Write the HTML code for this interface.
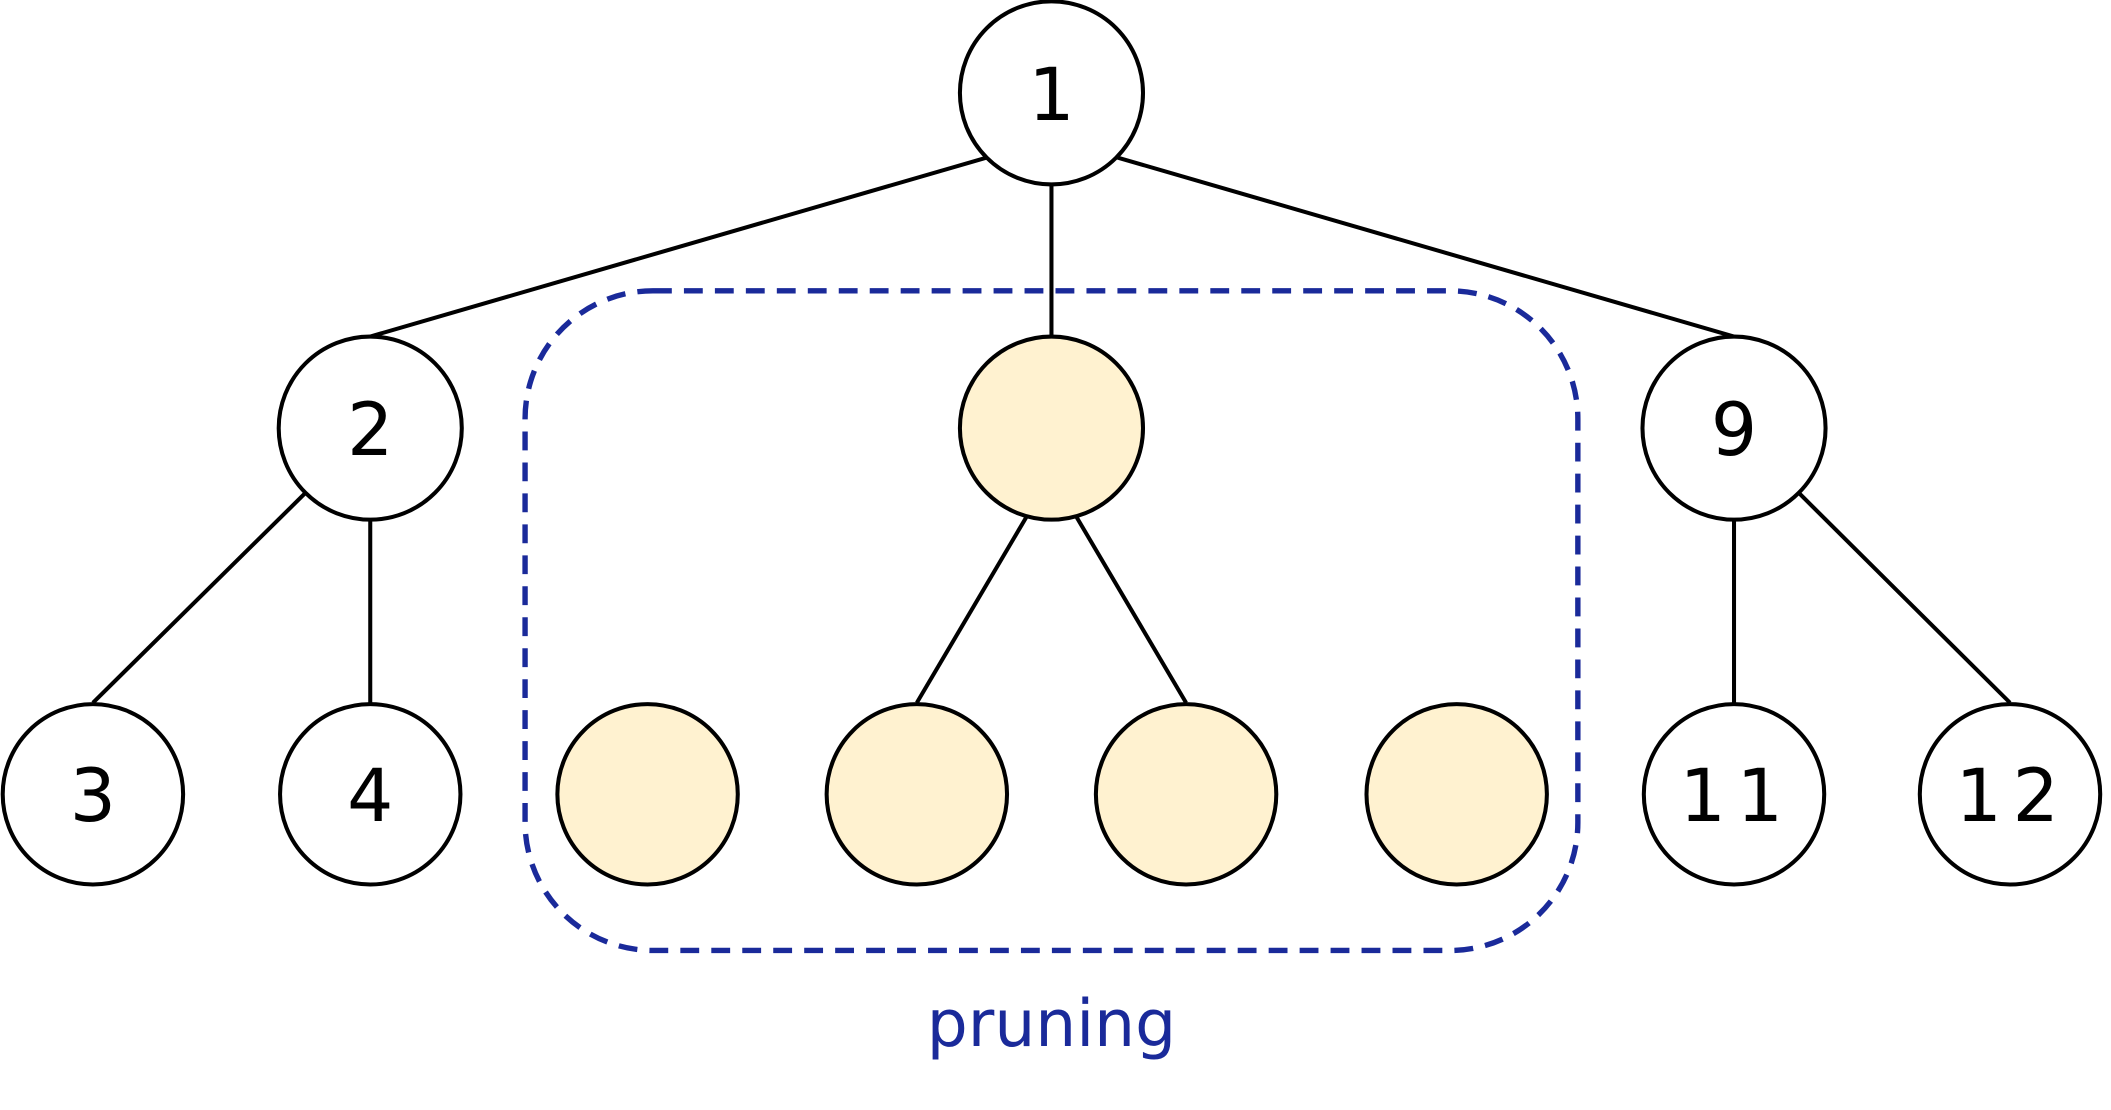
<!DOCTYPE html>
<html><head><meta charset="utf-8"><style>
html,body{margin:0;padding:0;background:#fff;}
svg{display:block;}
</style></head><body>
<svg width="2111" height="1110" viewBox="0 0 1568 824.5" xmlns="http://www.w3.org/2000/svg">
<g stroke="#000" stroke-width="3" fill="none">
<line x1="733" y1="117" x2="275" y2="250"/>
<line x1="781" y1="137" x2="781" y2="250"/>
<line x1="830" y1="117" x2="1288" y2="250"/>
<line x1="227" y1="366" x2="69" y2="522"/>
<line x1="275" y1="386" x2="275" y2="522"/>
<line x1="763" y1="383" x2="681" y2="522"/>
<line x1="799" y1="383" x2="881" y2="522"/>
<line x1="1288" y1="386" x2="1288" y2="522"/>
<line x1="1336" y1="366" x2="1493" y2="522"/>
</g>
<rect x="390" y="216" width="782" height="490" rx="95" ry="95" fill="none" stroke="#1a2a9a" stroke-width="4" stroke-dasharray="14,9"/>
<g stroke="#000" stroke-width="3">
<circle cx="781" cy="69" r="68" fill="#fff"/>
<circle cx="275" cy="318" r="68" fill="#fff"/>
<circle cx="781" cy="318" r="68" fill="#fff2d0"/>
<circle cx="1288" cy="318" r="68" fill="#fff"/>
<circle cx="69" cy="590" r="67" fill="#fff"/>
<circle cx="275" cy="590" r="67" fill="#fff"/>
<circle cx="481" cy="590" r="67" fill="#fff2d0"/>
<circle cx="681" cy="590" r="67" fill="#fff2d0"/>
<circle cx="881" cy="590" r="67" fill="#fff2d0"/>
<circle cx="1082" cy="590" r="67" fill="#fff2d0"/>
<circle cx="1288" cy="590" r="67" fill="#fff"/>
<circle cx="1493" cy="590" r="67" fill="#fff"/>
</g>
<g font-family="DejaVu Sans, Liberation Sans, sans-serif" font-size="54" text-anchor="middle" fill="#000">
<text x="781" y="89">1</text>
<text x="275" y="338">2</text>
<text x="1288" y="338">9</text>
<text x="69" y="610">3</text>
<text x="275" y="610">4</text>
<text x="1290" y="610" letter-spacing="8">11</text>
<text x="1495" y="610" letter-spacing="8">12</text>
</g>
<text x="781" y="777" font-family="DejaVu Sans, Liberation Sans, sans-serif" font-size="48" text-anchor="middle" fill="#1a2a9a">pruning</text>
</svg>
</body></html>
